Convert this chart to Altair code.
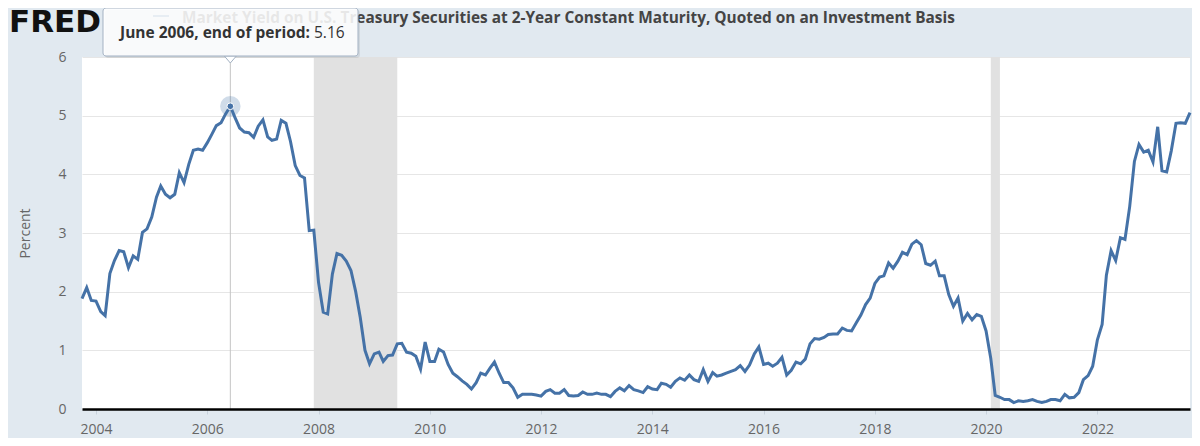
import altair as alt
import pandas as pd

# ---------------- data ----------------
START = "2003-10-01"
YIELDS = [
    1.88, 2.07, 1.85,
    1.84, 1.66, 1.59, 2.31, 2.53, 2.70, 2.68, 2.41, 2.61, 2.55, 3.01, 3.07,
    3.27, 3.61, 3.80, 3.66, 3.60, 3.66, 4.03, 3.86, 4.17, 4.41, 4.43, 4.41,
    4.54, 4.69, 4.83, 4.88, 5.03, 5.16, 4.97, 4.79, 4.72, 4.71, 4.63, 4.82,
    4.93, 4.64, 4.58, 4.60, 4.92, 4.87, 4.56, 4.15, 3.98, 3.94, 3.04, 3.05,
    2.16, 1.65, 1.62, 2.30, 2.65, 2.62, 2.52, 2.36, 2.00, 1.56, 1.00, 0.77,
    0.94, 0.97, 0.81, 0.91, 0.92, 1.11, 1.12, 0.97, 0.95, 0.90, 0.68, 1.14,
    0.81, 0.81, 1.02, 0.97, 0.76, 0.61, 0.55, 0.48, 0.42, 0.34, 0.45, 0.61,
    0.58, 0.70, 0.80, 0.61, 0.45, 0.45, 0.36, 0.20, 0.25, 0.25, 0.25, 0.24,
    0.22, 0.30, 0.33, 0.27, 0.27, 0.33, 0.23, 0.22, 0.23, 0.29, 0.25, 0.25,
    0.27, 0.25, 0.25, 0.21, 0.30, 0.36, 0.31, 0.40, 0.33, 0.31, 0.28, 0.38,
    0.34, 0.33, 0.44, 0.42, 0.37, 0.47, 0.53, 0.49, 0.58, 0.50, 0.47, 0.67,
    0.47, 0.62, 0.56, 0.58, 0.61, 0.64, 0.67, 0.74, 0.64, 0.75, 0.94, 1.06,
    0.76, 0.78, 0.73, 0.78, 0.88, 0.58, 0.66, 0.80, 0.77, 0.85, 1.11, 1.20,
    1.19, 1.22, 1.27, 1.28, 1.28, 1.38, 1.34, 1.33, 1.47, 1.60, 1.78, 1.89,
    2.14, 2.25, 2.27, 2.49, 2.40, 2.52, 2.67, 2.63, 2.81, 2.87, 2.80, 2.48,
    2.45, 2.52, 2.27, 2.27, 1.95, 1.75, 1.89, 1.50, 1.63, 1.52, 1.61, 1.58,
    1.33, 0.86, 0.23, 0.20, 0.16, 0.16, 0.11, 0.14, 0.13, 0.14, 0.16, 0.13,
    0.11, 0.13, 0.16, 0.16, 0.14, 0.25, 0.19, 0.20, 0.28, 0.50, 0.57, 0.73,
    1.18, 1.44, 2.28, 2.70, 2.53, 2.92, 2.89, 3.45, 4.22, 4.51, 4.38, 4.41,
    4.21, 4.81, 4.06, 4.04, 4.40, 4.87, 4.88, 4.87, 5.05,
]
DATES = pd.date_range(START, periods=len(YIELDS), freq="MS").strftime("%Y-%m-%d").tolist()

RECESSION_START = ["2007-12-01", "2020-02-01"]
RECESSION_END = ["2009-06-01", "2020-04-01"]

TICK_YEARS = [2004, 2006, 2008, 2010, 2012, 2014, 2016, 2018, 2020, 2022]
Y_TICKS = [0, 1, 2, 3, 4, 5, 6]
X_DOMAIN = [(2003, 10), (2023, 9)]

HIGHLIGHT_DATE = ["2006-06-01"]
HIGHLIGHT_VALUE = [5.16]

TITLE = "Market Yield on U.S. Treasury Securities at 2-Year Constant Maturity, Quoted on an Investment Basis"
LOGO = "FRED"
TIP_LABEL = "June 2006, end of period:"
TIP_VALUE = "5.16"
Y_TITLE = "Percent"

# ---------------- styles ----------------
W, H = 1108, 352
LINE_COLOR = "#4572a7"
BG = "#e1e9f0"
FONT = "Open Sans"
BORDER = "#a3b1c2"

series = pd.DataFrame({"date": DATES, "value": YIELDS})
recess = pd.DataFrame({"date": RECESSION_START, "end": RECESSION_END})
hl = pd.DataFrame({"date": HIGHLIGHT_DATE, "value": HIGHLIGHT_VALUE})
one = pd.DataFrame({"k": [0]})

x_scale = alt.Scale(
    type="utc",
    domain=[alt.DateTime(year=y, month=m, date=1, utc=True) for y, m in X_DOMAIN],
    nice=False,
)
y_scale = alt.Scale(domain=[Y_TICKS[0], Y_TICKS[-1]], nice=False)

x_axis = alt.Axis(
    values=[alt.DateTime(year=y, month=1, date=1, utc=True) for y in TICK_YEARS],
    format="%Y", formatType="utc", title=None, grid=False,
    domainColor="#000000", domainWidth=2.5, tickColor="#c8d2dc", tickSize=5,
    labelPadding=8, labelFont=FONT, labelFontSize=14, labelColor="#666666",
    zindex=1,
)
y_axis = alt.Axis(
    values=Y_TICKS, title=Y_TITLE, grid=True, gridColor="#e6e6e6", gridWidth=1,
    domain=False, ticks=False, labelPadding=16, labelFont=FONT, labelFontSize=14,
    labelColor="#666666", titleFont=FONT, titleFontSize=14, titleColor="#666666",
    titleFontWeight="normal", titleX=-57, titleY=H / 2, titleAngle=270,
    titleAlign="center", titleBaseline="middle",
)


def X(field="date"):
    return alt.X(f"{field}:T", scale=x_scale, axis=x_axis)


def Y(field="value"):
    return alt.Y(f"{field}:Q", scale=y_scale, axis=y_axis)


recess_layer = alt.Chart(recess).mark_rect(color="#e1e1e1").encode(
    x=X(), x2="end:T", y=alt.value(0), y2=alt.value(H),
)

cross = alt.Chart(hl).mark_rule(color="#c4c4c4", strokeWidth=1).encode(
    x=X(), y=alt.value(0), y2=alt.value(H),
)

line = alt.Chart(series).mark_line(color=LINE_COLOR, strokeWidth=3).encode(
    x=X(), y=Y(),
)

halo = alt.Chart(hl).mark_circle(size=420, color=LINE_COLOR, opacity=0.25).encode(
    x=X(), y=Y(),
)
dot = alt.Chart(hl).mark_circle(size=45, color=LINE_COLOR, opacity=1, stroke="white", strokeWidth=1).encode(
    x=X(), y=Y(),
)

logo = alt.Chart(one).mark_text(
    text=LOGO, align="left", baseline="alphabetic", font="DejaVu Sans",
    fontSize=31, fontWeight="bold", color="#111111",
).encode(x=alt.value(-73), y=alt.value(-25))

legend_line = alt.Chart(one).mark_rule(color=LINE_COLOR, strokeWidth=2).encode(
    x=alt.value(71), x2=alt.value(87), y=alt.value(-41),
)

title = alt.Chart(one).mark_text(
    text=TITLE, align="left", baseline="alphabetic", font=FONT, fontSize=15.4,
    fontWeight="bold", color="#444444",
).encode(x=alt.value(100), y=alt.value(-34))

shadow = alt.Chart(one).mark_rect(fill="#000000", opacity=0.08, cornerRadius=3).encode(
    x=alt.value(23), x2=alt.value(278), y=alt.value(-47), y2=alt.value(1),
)
pointer = alt.Chart(hl).mark_point(
    shape="M-1.2,-1L1.2,-1L0,0.4Z", size=100, filled=True, fill="white",
    stroke=BORDER, strokeWidth=1, opacity=1,
).encode(x=X(), y=alt.value(4))
box = alt.Chart(one).mark_rect(
    fill="white", fillOpacity=0.88, stroke=BORDER, strokeWidth=1, cornerRadius=3,
).encode(x=alt.value(21), x2=alt.value(276), y=alt.value(-49), y2=alt.value(-1))

tip_label = alt.Chart(one).mark_text(
    text=TIP_LABEL, align="right", baseline="middle", font=FONT, fontSize=15.5,
    fontWeight="bold", color="#333333",
).encode(x=alt.value(228), y=alt.value(-24))
tip_value = alt.Chart(one).mark_text(
    text=TIP_VALUE, align="left", baseline="middle", font=FONT, fontSize=15.5,
    fontWeight="normal", color="#333333",
).encode(x=alt.value(232), y=alt.value(-24))

chart = alt.layer(
    recess_layer, cross, line, halo, dot,
    logo, legend_line, title, shadow, pointer, box, tip_label, tip_value,
).properties(
    width=W, height=H,
    autosize=alt.AutoSizeParams(type="none"),
    padding={"left": 74, "top": 49, "right": 2, "bottom": 29},
    background=BG,
).configure_view(fill="white", strokeWidth=0)

chart.save("out.html", embed_options={"renderer": "svg", "actions": False})
